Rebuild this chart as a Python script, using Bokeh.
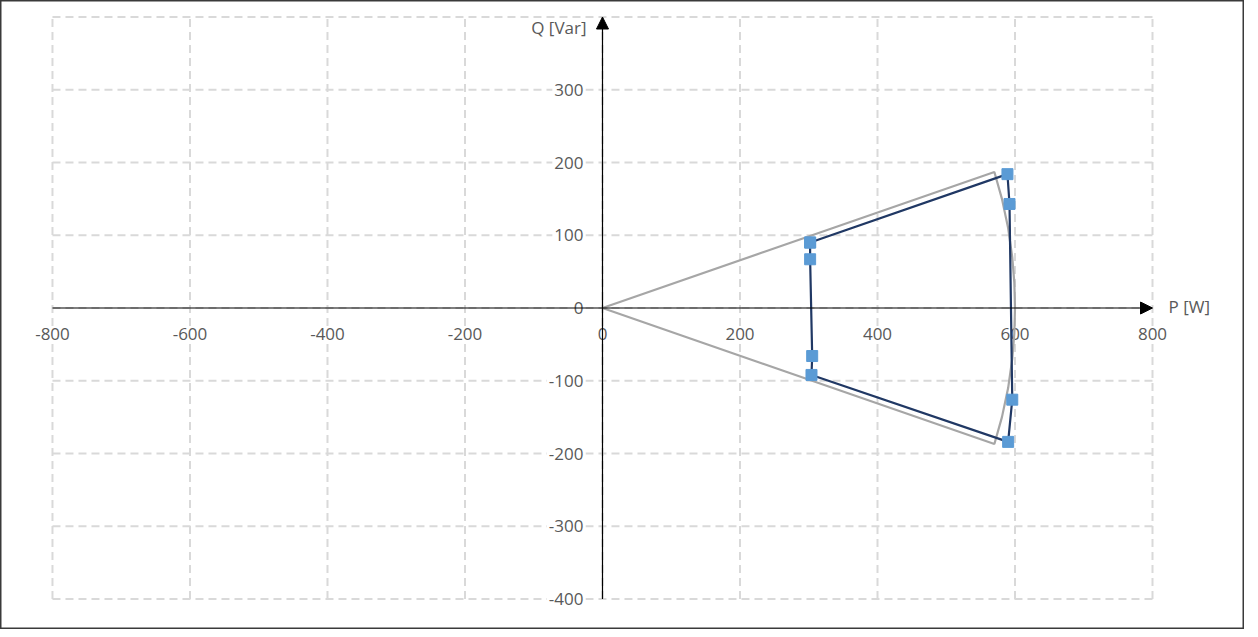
from bokeh.plotting import figure
from bokeh.models import Range1d, Arrow, NormalHead, ColumnDataSource
from bokeh.core.properties import value
from bokeh.embed import file_html
from bokeh.resources import INLINE

# ---- data ----
x_ticks = [-800, -600, -400, -200, 0, 200, 400, 600, 800]
y_ticks = [-400, -300, -200, -100, 0, 100, 200, 300, 400]
x_tick_labels = ["-800", "-600", "-400", "-200", "0", "200", "400", "600", "800"]
y_tick_labels = ["-400", "-300", "-200", "-100", "0", "100", "200", "300"]
y_label_vals = [-400, -300, -200, -100, 0, 100, 200, 300]

# measured operating points (P [W], Q [Var])
meas_p = [302, 589, 592, 596, 590, 304, 305, 302, 302]
meas_q = [90, 184, 143, -126, -184, -92, -66, 67, 90]

# capability limit (cos phi 0.95, S = 600)
lim_p = [0, 570, 581, 590, 596, 599, 600, 599, 596, 590, 581, 570, 0]
lim_q = [0, 187, 150, 110, 70, 35, 0, -35, -70, -110, -150, -187, 0]

x_title = "P [W]"
y_title = "Q [Var]"

FONT = "Open Sans"
TXT = "#595959"

p = figure(width=1244, height=629, output_backend="svg", toolbar_location=None,
           x_range=Range1d(-875.6, 933.8), y_range=Range1d(-441.9, 422.7),
           min_border=0, min_border_left=0, min_border_right=0,
           min_border_top=0, min_border_bottom=0)
p.xaxis.visible = False
p.yaxis.visible = False
p.xgrid.visible = False
p.ygrid.visible = False
p.outline_line_color = "#3a3a3a"
p.outline_line_width = 2
p.background_fill_color = "white"
p.border_fill_color = "white"

xmin, xmax = x_ticks[0], x_ticks[-1]
ymin, ymax = y_ticks[0], y_ticks[-1]

# dashed grid bounded to the tick range
p.segment(x0=x_ticks, y0=[ymin] * len(x_ticks), x1=x_ticks, y1=[ymax] * len(x_ticks),
          line_color="#d9d9d9", line_width=2, line_dash="8 5")
p.segment(x0=[xmin] * len(y_ticks), y0=y_ticks, x1=[xmax] * len(y_ticks), y1=y_ticks,
          line_color="#d9d9d9", line_width=2, line_dash="8 5")

# tick labels
xs = ColumnDataSource(dict(x=x_ticks, y=[0] * len(x_ticks), t=x_tick_labels))
p.text(x="x", y="y", text="t", source=xs, text_align="center", text_baseline="middle",
       y_offset=26, text_font=value(FONT), text_font_size="17px", text_color=TXT,
       background_fill_color="white", padding=2)
ys = ColumnDataSource(dict(x=[0] * len(y_label_vals), y=y_label_vals, t=y_tick_labels))
p.text(x="x", y="y", text="t", source=ys, text_align="right", text_baseline="middle",
       x_offset=-17, text_font=value(FONT), text_font_size="17px", text_color=TXT,
       background_fill_color="white", padding=2)

# axis lines with arrows
p.add_layout(Arrow(x_start=xmin, y_start=0, x_end=xmax, y_end=0, line_color="black",
                   line_width=1.2, end=NormalHead(size=12, fill_color="black", line_color="black")))
p.add_layout(Arrow(x_start=0, y_start=ymin, x_end=0, y_end=ymax, line_color="black",
                   line_width=1.2, end=NormalHead(size=12, fill_color="black", line_color="black")))

# axis titles
p.text(x=[xmax], y=[0], text=[x_title], text_align="left", text_baseline="middle",
       x_offset=16, y_offset=-2, text_font=value(FONT), text_font_size="17px", text_color=TXT)
p.text(x=[0], y=[ymax], text=[y_title], text_align="right", text_baseline="middle",
       x_offset=-16, y_offset=10, text_font=value(FONT), text_font_size="17px", text_color=TXT)

# series
p.line(lim_p, lim_q, line_color="#a6a6a6", line_width=2.2)
p.line(meas_p, meas_q, line_color="#203864", line_width=2.2)
p.scatter(meas_p, meas_q, marker="square", size=11, fill_color="#5b9bd5", line_color="#5b9bd5")

open("out.html", "w").write(file_html(p, INLINE))
